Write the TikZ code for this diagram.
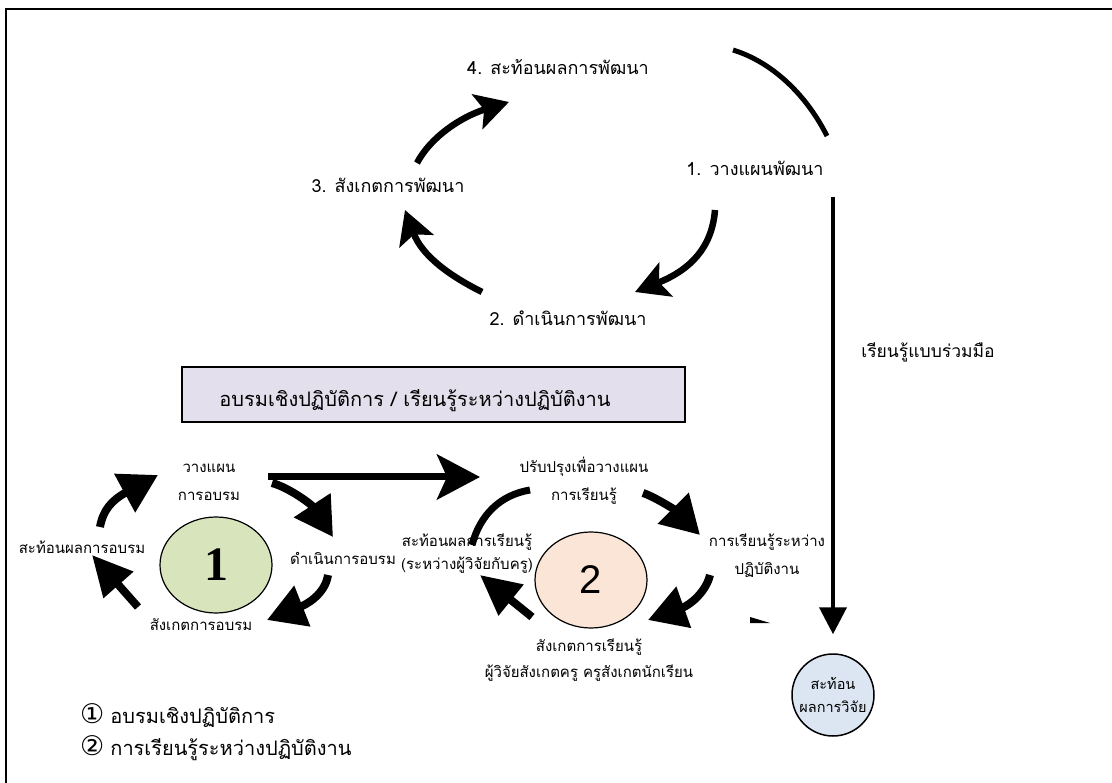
\documentclass[tikz,border=0pt]{standalone}
\usepackage{fontspec}
\usetikzlibrary{arrows.meta,shapes.geometric}
\newfontfamily\thai[Script=Thai]{Loma}
\newfontfamily\dejavu{DejaVu Sans}
\newfontfamily\libserif{Liberation Serif}
\newfontfamily\libsans{Liberation Sans}
\definecolor{boxfill}{HTML}{E4DFEC}
\definecolor{greenfill}{HTML}{D7E4BC}
\definecolor{peachfill}{HTML}{FBE5D6}
\definecolor{bluefill}{HTML}{DCE6F2}
\tikzset{
  toplbl/.style={font=\thai\fontsize{18}{22}\selectfont, inner sep=0pt},
  lbl/.style={font=\thai\fontsize{15}{28}\selectfont, inner sep=0pt, align=center},
  topcurve/.style={line width=6.5pt, -{Stealth[length=33pt,width=36pt,inset=7pt]}},
  fatcurve/.style={line width=8pt, -{Triangle[length=38pt,width=42pt]}},
  legend/.style={font=\thai\fontsize{20}{24}\selectfont, inner sep=0pt, anchor=west},
}
\begin{document}
\begin{tikzpicture}[x=1pt,y=-1pt]
\useasboundingbox (0,0) rectangle (1112,783);
% frame
\draw[line width=2pt] (6,783) -- (6,9) -- (1112,9);

% ---- top cycle ----
\node[toplbl] (t4) at (558,67) {4. สะท้อนผลการพัฒนา};
\node[toplbl] (t1) at (755,168) {1. วางแผนพัฒนา};
\node[toplbl] (t3) at (388,185) {3. สังเกตการพัฒนา};
\node[toplbl] (t2) at (568,318) {2. ดำเนินการพัฒนา};

\coordinate (arcA) at (733,50);
\coordinate (arcB) at (827,136);
\draw[line width=5pt] (arcA) .. controls (775,63) and (808,98) .. (arcB);

\coordinate (p12a) at (715,210);
\coordinate (p12b) at (635,292);
\draw[topcurve] (p12a) .. controls (712,248) and (690,270) .. (p12b);
\coordinate (p23a) at (482,292);
\coordinate (p23b) at (405,210);
\draw[topcurve] (p23a) .. controls (450,276) and (422,256) .. (p23b);
\coordinate (p34a) at (417,163);
\coordinate (p34b) at (509,102);
\draw[topcurve] (p34a) .. controls (430,138) and (460,117) .. (p34b);

% collaborative learning line
\node[font=\thai\fontsize{17.5}{21}\selectfont, inner sep=0pt] (collab) at (928,352) {เรียนรู้แบบร่วมมือ};
\node[draw, circle, line width=1.5pt, fill=bluefill, minimum size=82pt, inner sep=0pt,
      font=\thai\fontsize{14.5}{23}\selectfont, align=center] (rc) at (833,695) {สะท้อน\\ผลการวิจัย};
\coordinate (vtop) at (833,197);
\draw[line width=4pt, -{Triangle[length=27pt,width=27pt]}] (vtop) -- ([yshift=19pt]rc.north);

% ---- title box ----
\node[draw, line width=1.2pt, fill=boxfill, minimum width=503pt, minimum height=55pt, inner sep=0pt] (box) at (433.5,394.5) {};
\node[font=\thai\fontsize{20}{25}\selectfont, inner sep=0pt] (boxtxt) at (415,401) {อบรมเชิงปฏิบัติการ / เรียนรู้ระหว่างปฏิบัติงาน};

% ---- cycle 1 ----
\node[draw, ellipse, line width=1.2pt, fill=greenfill, minimum width=112pt, minimum height=96pt, inner sep=0pt,
      font=\libserif\bfseries\fontsize{48}{48}\selectfont] (e1) at (216,565) {1};
\node[lbl] (c1plan) at (209,482) {วางแผน\\การอบรม};
\node[lbl] (c1refl) at (82,547) {สะท้อนผลการอบรม};
\node[lbl] (c1do) at (343,558) {ดำเนินการอบรม};
\node[lbl] (c1obs) at (201,625) {สังเกตการอบรม};

\coordinate (c1aA) at (100,527);
\coordinate (c1aB) at (158,475);
\draw[fatcurve] (c1aA) .. controls (103,510) and (112,500) .. (c1aB);
\coordinate (c1bA) at (272,483);
\coordinate (c1bB) at (333,537);
\draw[fatcurve] (c1bA) .. controls (290,488) and (312,505) .. (c1bB);
\coordinate (c1cA) at (328,575);
\coordinate (c1cB) at (267,620);
\draw[fatcurve] (c1cA) .. controls (325,595) and (305,605) .. (c1cB);
\coordinate (c1dA) at (138,607);
\coordinate (c1dB) at (92,555);
\draw[line width=8pt, -{Triangle[length=40pt,width=38pt]}] (c1dA) -- (c1dB);

\coordinate (longA) at (268,477);
\coordinate (longB) at (480,477);
\draw[line width=7pt, -{Stealth[length=43pt,width=45pt,inset=10pt]}] (longA) -- (longB);

% ---- cycle 2 ----
\node[draw, ellipse, line width=1.2pt, fill=peachfill, minimum width=112pt, minimum height=96pt, inner sep=0pt,
      font=\libsans\fontsize{40}{40}\selectfont] (e2) at (591,580) {2};
\node[lbl] (c2imp) at (584,481) {ปรับปรุงเพื่อวางแผน\\การเรียนรู้};
\node[lbl] (c2learn) at (767,556) {การเรียนรู้ระหว่าง\\ปฏิบัติงาน};
\node[lbl, font=\thai\fontsize{15}{23}\selectfont] (c2refl) at (467,554) {สะท้อนผลการเรียนรู้\\(ระหว่างผู้วิจัยกับครู)};
\node[lbl, font=\thai\fontsize{15}{26}\selectfont] (c2obs) at (589,660) {สังเกตการเรียนรู้\\ผู้วิจัยสังเกตครู ครูสังเกตนักเรียน};

\coordinate (c2arcA) at (530,490);
\coordinate (c2arcB) at (472,545);
\draw[line width=7pt] (c2arcA) .. controls (500,495) and (480,515) .. (c2arcB);
\coordinate (c2aA) at (643,493);
\coordinate (c2aB) at (700,535);
\draw[fatcurve] (c2aA) .. controls (655,497) and (675,510) .. (c2aB);
\coordinate (c2bA) at (710,575);
\coordinate (c2bB) at (648,620);
\draw[fatcurve] (c2bA) .. controls (706,592) and (690,605) .. (c2bB);
\coordinate (c2cA) at (532,617);
\coordinate (c2cB) at (480,575);
\draw[line width=8pt, -{Triangle[length=40pt,width=38pt]}] (c2cA) -- (c2cB);
\fill (750,617) -- (750,623) -- (770,623) -- cycle;

% ---- legend ----
\node[legend] (lg1) at (80,716) {{\dejavu\fontsize{27}{27}\selectfont ①}\hspace{6pt}อบรมเชิงปฏิบัติการ};
\node[legend] (lg2) at (80,748) {{\dejavu\fontsize{27}{27}\selectfont ②}\hspace{6pt}การเรียนรู้ระหว่างปฏิบัติงาน};
\end{tikzpicture}
\end{document}
